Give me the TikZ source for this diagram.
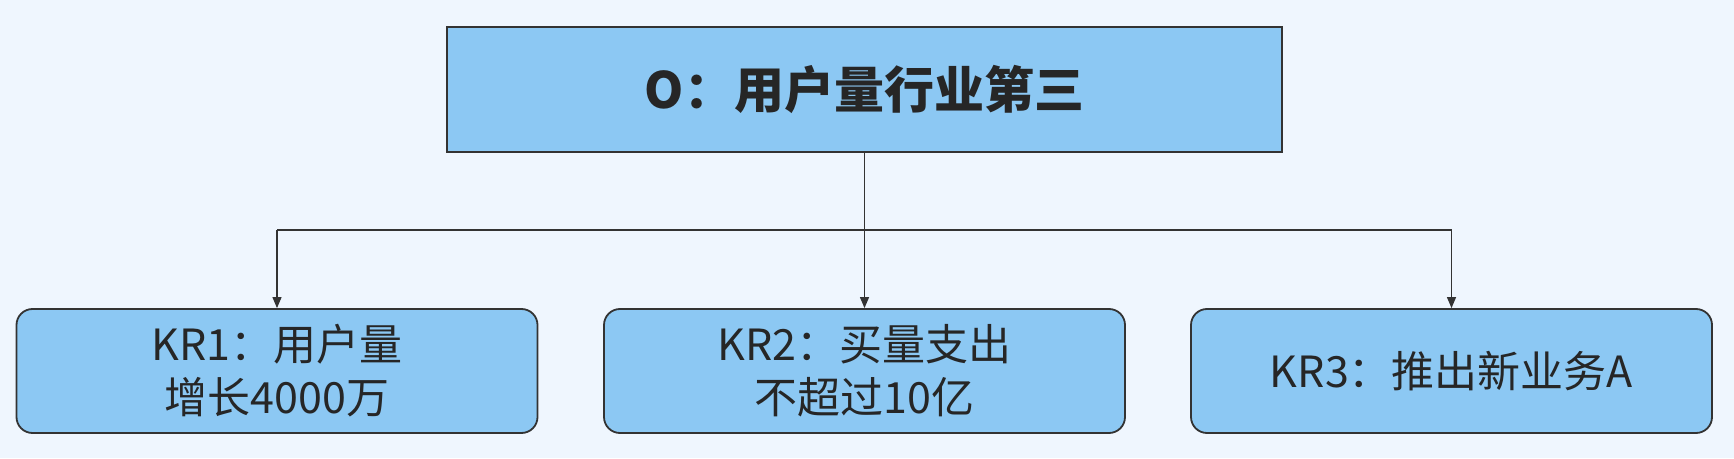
\documentclass[tikz,border=0pt]{standalone}
\usepackage{fontspec}
\setmainfont{Noto Sans CJK SC}
\usetikzlibrary{arrows.meta}
\definecolor{bg}{HTML}{EFF6FE}
\definecolor{boxfill}{HTML}{8CC8F3}
\definecolor{edge}{HTML}{333333}
\definecolor{txt}{HTML}{262626}
\begin{document}
\begin{tikzpicture}[x=1pt,y=1pt,
 obox/.style={draw=edge, line width=2pt, fill=boxfill, minimum width=835pt, minimum height=125pt, inner sep=0pt, text=txt, font=\fontsize{50}{60}\selectfont\bfseries},
 krbox/.style={draw=edge, line width=1.8pt, fill=boxfill, rounded corners=16pt, minimum width=521pt, minimum height=124pt, inner sep=0pt, align=center, text=txt, font=\fontsize{43}{53}\selectfont},
 conn/.style={draw=edge, line width=1.2pt},
 arr/.style={conn, -{Triangle[length=11pt,width=9pt]}}]
\fill[bg] (0,0) rectangle (1734,458);
\useasboundingbox (0,0) rectangle (1734,458);
\node[obox] (o) at (864.5,368.5) {O：用户量行业第三};
\node[krbox] (k1) at (277,87) {KR1：用户量\\增长4000万};
\node[krbox] (k2) at (864.5,87) {KR2：买量支出\\不超过10亿};
\node[krbox] (k3) at (1451.5,87) {KR3：推出新业务A};
\coordinate (j) at (864.5,228);
\coordinate (l) at (k1.north |- j);
\coordinate (r) at (k3.north |- j);
\draw[arr] (o.south) -- (k2.north);
\draw[conn] (l) -- (r);
\draw[arr] (l) -- (k1.north);
\draw[arr] (r) -- (k3.north);
\end{tikzpicture}
\end{document}
